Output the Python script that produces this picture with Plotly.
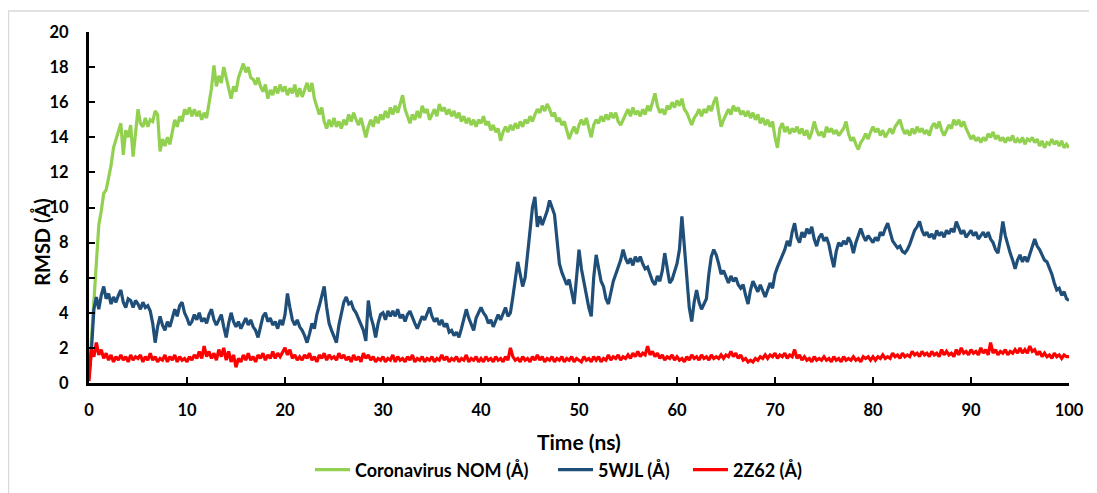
import plotly.graph_objects as go

# time axis (ns), sampled every 0.25 ns
time_ns = [i * 0.25 for i in range(401)]

nom_rmsd = [
    0.3, 2.5, 4.8, 7.0, 9.0, 9.8, 10.8, 11.0, 11.6, 12.4, 13.4, 13.9, 14.3, 14.8, 13.0, 14.4, 14.0, 14.7, 12.9, 14.3,
    15.6, 14.8, 14.6, 15.1, 14.6, 15.0, 14.9, 15.5, 15.3, 13.2, 13.9, 13.5, 14.0, 13.6, 14.4, 15.0, 14.6, 15.2, 14.9, 15.6,
    15.3, 15.7, 15.2, 15.6, 15.2, 15.5, 15.0, 15.4, 15.1, 15.9, 16.8, 18.1, 16.9, 17.5, 17.1, 18.0, 17.4, 16.8, 16.2, 16.9,
    16.6, 17.4, 17.8, 18.2, 17.7, 18.0, 17.4, 17.3, 17.0, 17.4, 16.9, 16.6, 17.0, 16.2, 16.7, 16.4, 16.9, 16.5, 17.0, 16.6,
    16.9, 16.4, 16.8, 16.5, 17.0, 16.3, 16.8, 16.3, 16.7, 17.1, 16.6, 17.1, 16.2, 15.8, 15.3, 15.7, 14.9, 14.5, 15.0, 14.6,
    15.1, 14.6, 14.9, 14.5, 15.0, 14.7, 15.3, 14.9, 15.4, 15.0, 14.7, 15.1, 14.6, 14.0, 14.6, 15.0, 14.6, 15.2, 14.8, 15.3,
    15.0, 15.5, 15.1, 15.7, 15.3, 15.8, 15.4, 16.0, 16.4, 15.6, 15.2, 14.8, 15.3, 15.0, 15.5, 15.1, 15.8, 15.4, 15.6, 15.0,
    15.3, 15.6, 15.2, 15.9, 15.5, 15.7, 15.3, 15.6, 15.2, 15.5, 15.1, 15.4, 14.9, 15.2, 14.8, 15.1, 14.7, 15.0, 14.6, 15.0,
    14.8, 15.2, 14.7, 14.9, 14.4, 14.7, 14.3, 14.5, 13.8, 14.3, 14.6, 14.3, 14.7, 14.4, 14.8, 14.5, 14.9, 14.6, 15.0, 14.8,
    15.2, 14.9, 15.3, 15.6, 15.4, 15.8, 15.5, 15.9, 15.6, 15.2, 15.4, 14.9, 15.1, 14.7, 14.9, 14.4, 13.9, 14.3, 14.6, 14.2,
    14.7, 15.0, 14.7, 15.1, 14.5, 14.0, 14.7, 15.0, 14.8, 15.2, 14.9, 15.3, 15.0, 15.4, 15.1, 15.4, 14.9, 14.7, 15.0, 15.3,
    15.6, 15.2, 15.7, 15.3, 15.5, 15.2, 15.6, 15.3, 15.8, 15.5, 16.0, 16.5, 15.8, 15.4, 15.6, 15.3, 15.8, 15.6, 16.0, 15.7,
    16.1, 15.8, 16.2, 15.6, 15.4, 15.0, 14.7, 15.1, 15.3, 15.6, 15.2, 15.6, 15.4, 15.8, 15.5, 16.0, 16.3, 15.4, 14.6, 15.0,
    15.3, 15.6, 15.3, 15.8, 15.5, 15.7, 15.3, 15.5, 15.2, 15.5, 15.1, 15.4, 15.0, 15.3, 14.8, 15.1, 14.7, 15.0, 14.6, 14.9,
    14.0, 13.4, 14.5, 14.8, 14.3, 14.6, 14.2, 14.5, 14.3, 14.6, 14.2, 14.5, 14.1, 14.4, 13.9, 14.3, 14.9, 14.4, 14.1, 14.3,
    14.0, 14.6, 14.3, 14.5, 14.2, 14.4, 14.1, 14.3, 14.5, 14.9, 14.2, 13.8, 14.0, 13.6, 13.3, 13.7, 13.9, 14.2, 13.9, 14.3,
    14.6, 14.3, 14.5, 14.1, 14.4, 14.0, 14.3, 14.5, 14.2, 14.6, 14.8, 15.0, 14.5, 14.2, 14.4, 14.1, 14.5, 14.2, 14.6, 14.3,
    14.5, 14.2, 14.4, 14.1, 14.6, 14.8, 14.5, 14.9, 14.4, 14.1, 14.4, 14.7, 14.5, 15.0, 14.7, 15.0, 14.6, 14.9, 14.5, 14.2,
    13.9, 14.1, 13.8, 14.0, 13.7, 14.0, 13.8, 14.2, 14.0, 14.3, 13.9, 14.1, 13.8, 14.0, 13.7, 14.0, 13.8, 14.1, 13.7, 13.9,
    13.7, 14.0, 13.6, 13.9, 13.8, 14.0, 13.7, 13.9, 13.5, 13.8, 13.4, 13.7, 13.6, 13.9, 13.6, 13.8, 13.5, 13.8, 13.4, 13.6,
    13.4,
]

wjl_rmsd = [
    0.5, 1.9, 4.2, 4.9, 4.2, 5.0, 5.5, 4.8, 5.1, 4.5, 4.9, 4.6, 5.0, 5.3, 4.6, 4.3, 4.8, 4.7, 4.3, 4.7,
    4.5, 4.2, 4.6, 4.3, 4.4, 4.1, 3.4, 2.3, 3.2, 3.8, 3.3, 3.0, 3.5, 3.2, 3.7, 4.2, 3.8, 4.4, 4.6, 4.0,
    3.7, 3.3, 3.5, 3.9, 3.6, 4.0, 3.5, 3.7, 3.4, 3.9, 4.2, 3.6, 3.3, 3.6, 3.9, 3.2, 2.6, 3.4, 4.0, 3.5,
    3.2, 3.5, 3.1, 3.4, 3.7, 3.3, 3.6, 3.2, 3.0, 2.6, 3.3, 3.8, 4.0, 3.5, 3.7, 3.3, 3.5, 3.1, 3.6, 3.3,
    3.9, 5.1, 4.3, 3.6, 3.3, 3.6, 3.2, 3.0, 2.7, 2.3, 2.8, 3.4, 3.1, 3.9, 4.4, 5.0, 5.5, 4.3, 3.4, 3.0,
    2.7, 2.3, 3.3, 4.0, 4.6, 4.9, 4.5, 4.6, 4.2, 4.0, 3.7, 3.4, 3.0, 2.4, 4.7, 3.8, 3.3, 2.6, 3.4, 3.9,
    4.0, 3.6, 4.1, 3.8, 4.1, 3.8, 4.2, 3.7, 3.9, 3.5, 3.9, 4.1, 3.7, 3.4, 3.1, 3.5, 3.8, 3.6, 4.0, 4.3,
    3.8, 3.5, 3.7, 3.3, 3.6, 3.2, 3.4, 2.9, 3.0, 2.7, 2.9, 2.6, 3.1, 3.6, 4.2, 3.7, 3.3, 3.0, 3.7, 4.0,
    4.3, 4.0, 3.8, 3.4, 3.6, 3.2, 3.5, 3.9, 3.6, 4.0, 4.3, 3.8, 4.0, 4.9, 5.8, 6.9, 6.2, 5.5, 6.0, 7.4,
    8.5, 10.0, 10.6, 8.9, 9.5, 9.0, 9.4, 9.8, 10.4, 10.0, 9.6, 8.2, 6.8, 6.3, 6.0, 5.6, 5.9, 5.2, 4.5, 6.0,
    7.6, 6.5, 5.7, 5.0, 4.3, 3.8, 6.0, 7.3, 6.6, 5.8, 5.5, 4.8, 4.5, 5.2, 5.8, 6.2, 6.6, 7.0, 7.6, 7.1,
    6.8, 7.1, 6.7, 7.2, 6.9, 7.2, 6.8, 6.5, 6.6, 6.2, 5.8, 5.6, 6.1, 5.8, 6.4, 7.4, 6.6, 5.7, 5.9, 6.3,
    6.8, 7.6, 9.5, 7.8, 6.2, 4.3, 3.5, 4.6, 5.3, 4.6, 4.2, 4.5, 4.8, 6.2, 7.2, 7.6, 7.3, 6.8, 6.2, 6.4,
    6.0, 5.7, 6.1, 5.8, 6.0, 5.6, 5.4, 5.6, 5.0, 4.5, 5.3, 5.8, 5.5, 5.2, 5.6, 5.2, 4.9, 5.3, 5.7, 5.4,
    6.2, 6.6, 6.9, 7.3, 7.6, 8.1, 7.8, 8.6, 9.1, 8.3, 8.0, 8.6, 8.3, 8.8, 8.5, 8.9, 8.2, 7.8, 8.3, 8.5,
    8.1, 8.3, 7.9, 7.2, 6.6, 7.5, 8.0, 7.8, 8.1, 7.9, 8.3, 8.0, 7.4, 8.0, 8.4, 8.8, 8.4, 8.1, 8.4, 8.2,
    8.0, 8.3, 8.1, 8.6, 8.4, 8.8, 9.1, 8.6, 8.1, 7.9, 7.7, 7.8, 7.5, 7.4, 7.6, 7.9, 8.3, 8.7, 8.9, 9.2,
    8.7, 8.4, 8.6, 8.3, 8.5, 8.2, 8.7, 8.4, 8.6, 8.3, 8.7, 8.5, 8.8, 8.6, 9.2, 8.8, 8.5, 8.7, 8.3, 8.5,
    8.7, 8.4, 8.6, 8.2, 8.4, 8.6, 8.3, 8.6, 8.2, 8.0, 7.6, 7.4, 8.2, 9.2, 8.4, 7.8, 7.4, 7.0, 6.5, 7.0,
    7.3, 6.9, 7.2, 6.9, 7.3, 7.7, 8.2, 7.8, 7.6, 7.3, 7.0, 6.9, 6.6, 6.2, 5.7, 5.3, 5.4, 5.0, 5.2, 4.8,
    4.7,
]

z62_rmsd = [
    0.1, 1.9, 1.5, 2.3, 1.6, 1.9, 1.4, 1.7, 1.3, 1.6, 1.2, 1.5, 1.3, 1.6, 1.3, 1.5, 1.2, 1.6, 1.3, 1.5,
    1.4, 1.6, 1.2, 1.5, 1.3, 1.7, 1.3, 1.5, 1.2, 1.4, 1.3, 1.6, 1.2, 1.5, 1.3, 1.6, 1.2, 1.5, 1.3, 1.4,
    1.2, 1.5, 1.3, 1.6, 1.4, 1.8, 1.4, 2.1, 1.5, 1.8, 1.4, 1.7, 1.3, 1.9, 1.5, 2.0, 1.3, 1.8, 1.2, 1.6,
    0.9, 1.4, 1.2, 1.6, 1.3, 1.7, 1.3, 1.5, 1.2, 1.6, 1.4, 1.7, 1.3, 1.6, 1.4, 1.8, 1.4, 1.7, 1.5, 1.8,
    2.0, 1.6, 1.9, 1.4, 1.6, 1.3, 1.5, 1.3, 1.6, 1.4, 1.7, 1.3, 1.5, 1.2, 1.6, 1.4, 1.7, 1.3, 1.6, 1.4,
    1.5, 1.3, 1.7, 1.4, 1.6, 1.3, 1.5, 1.2, 1.6, 1.3, 1.5, 1.2, 1.7, 1.4, 1.6, 1.3, 1.5, 1.2, 1.4, 1.3,
    1.5, 1.2, 1.4, 1.3, 1.6, 1.2, 1.5, 1.3, 1.4, 1.2, 1.5, 1.3, 1.6, 1.2, 1.4, 1.3, 1.5, 1.2, 1.4, 1.3,
    1.5, 1.2, 1.4, 1.3, 1.6, 1.3, 1.5, 1.2, 1.4, 1.3, 1.5, 1.2, 1.4, 1.3, 1.6, 1.2, 1.4, 1.3, 1.5, 1.2,
    1.4, 1.2, 1.5, 1.3, 1.4, 1.2, 1.5, 1.3, 1.4, 1.2, 1.5, 1.3, 2.0, 1.5, 1.3, 1.4, 1.2, 1.5, 1.3, 1.4,
    1.2, 1.5, 1.3, 1.6, 1.3, 1.5, 1.2, 1.4, 1.3, 1.5, 1.2, 1.4, 1.3, 1.5, 1.2, 1.4, 1.3, 1.5, 1.2, 1.4,
    1.3, 1.2, 1.5, 1.3, 1.4, 1.2, 1.5, 1.3, 1.5, 1.2, 1.4, 1.3, 1.6, 1.3, 1.5, 1.4, 1.6, 1.3, 1.5, 1.4,
    1.6, 1.4, 1.7, 1.5, 1.8, 1.5, 1.7, 1.6, 2.1, 1.6, 1.8, 1.5, 1.7, 1.4, 1.6, 1.3, 1.5, 1.4, 1.6, 1.3,
    1.5, 1.3, 1.4, 1.2, 1.5, 1.3, 1.6, 1.4, 1.5, 1.3, 1.6, 1.4, 1.5, 1.3, 1.6, 1.4, 1.5, 1.4, 1.6, 1.4,
    1.6, 1.5, 1.8, 1.5, 1.7, 1.4, 1.6, 1.3, 1.4, 1.2, 1.3, 1.2, 1.4, 1.3, 1.5, 1.4, 1.6, 1.4, 1.6, 1.5,
    1.7, 1.4, 1.6, 1.5, 1.7, 1.4, 1.6, 1.5, 1.9, 1.4, 1.6, 1.3, 1.5, 1.3, 1.4, 1.2, 1.5, 1.3, 1.4, 1.3,
    1.5, 1.3, 1.4, 1.2, 1.5, 1.3, 1.4, 1.2, 1.5, 1.3, 1.4, 1.3, 1.5, 1.3, 1.4, 1.2, 1.5, 1.4, 1.5, 1.3,
    1.5, 1.3, 1.5, 1.4, 1.6, 1.4, 1.5, 1.4, 1.7, 1.5, 1.6, 1.4, 1.7, 1.5, 1.6, 1.5, 1.8, 1.6, 1.7, 1.5,
    1.8, 1.6, 1.7, 1.5, 1.8, 1.6, 1.7, 1.5, 1.9, 1.6, 1.8, 1.6, 1.7, 1.5, 1.9, 1.6, 2.0, 1.7, 1.8, 1.6,
    1.9, 1.7, 1.8, 1.6, 2.0, 1.7, 1.9, 1.6, 2.3, 1.7, 1.9, 1.6, 1.8, 1.7, 1.9, 1.6, 1.8, 1.7, 1.9, 1.7,
    2.0, 1.7, 1.9, 1.7, 2.1, 1.8, 1.9, 1.6, 1.8, 1.5, 1.7, 1.5, 1.6, 1.4, 1.7, 1.5, 1.6, 1.4, 1.6, 1.5,
    1.5,
]

series_names = ["Coronavirus NOM (Å)", "5WJL (Å)", "2Z62 (Å)"]
series_colors = ["#92D050", "#1F4E79", "#FF0000"]
legend_ids = ["legend", "legend2", "legend3"]
x_ticks = [0, 10, 20, 30, 40, 50, 60, 70, 80, 90, 100]
y_ticks = [0, 2, 4, 6, 8, 10, 12, 14, 16, 18, 20]

FONT = "Lato, 'Open Sans', sans-serif"

fig = go.Figure()
for name, ys, col, lg in zip(series_names, [nom_rmsd, wjl_rmsd, z62_rmsd], series_colors, legend_ids):
    fig.add_trace(go.Scatter(x=time_ns, y=ys, mode="lines", name=name, legend=lg,
                             line=dict(color=col, width=3.2)))

axis_common = dict(showline=True, linecolor="black", linewidth=3, ticks="inside",
                   ticklen=6, tickwidth=2, tickcolor="black", showgrid=False, zeroline=False,
                   tickfont=dict(family=FONT, size=16.5, color="black", weight="bold"))

legend_font = dict(family=FONT, size=18, color="black", weight="bold")
legend_y = 0.0474  # container coordinates


def legend_at(xpaper):
    return dict(orientation="h", x=xpaper, xanchor="left", xref="paper",
                y=legend_y, yref="container", yanchor="middle",
                font=legend_font, bgcolor="rgba(0,0,0,0)", itemwidth=35)


fig.update_layout(
    width=1089, height=485, autosize=False,
    margin=dict(l=81, r=28, t=24, b=110, autoexpand=False),
    paper_bgcolor="white", plot_bgcolor="white",
    xaxis=dict(range=[0, 100], tickvals=x_ticks, ticklabelstandoff=10, **axis_common),
    yaxis=dict(range=[0, 20], tickvals=y_ticks, ticklabelstandoff=14, **axis_common),
    showlegend=True,
    legend=legend_at(0.2255),
    legend2=legend_at(0.4735),
    legend3=legend_at(0.6112),
    annotations=[
        dict(text="Time (ns)", xref="paper", yref="paper", x=0.5, y=-0.168,
             xanchor="center", yanchor="middle", showarrow=False,
             font=dict(family=FONT, size=21, color="black", weight="bold")),
        dict(text="RMSD (Å)", xref="paper", yref="paper", x=-0.048, y=0.402,
             xanchor="center", yanchor="middle", showarrow=False, textangle=-90,
             font=dict(family=FONT, size=20, color="black", weight="bold")),
    ],
    shapes=[
        dict(type="rect", xref="paper", yref="paper", x0=-0.0822, x1=1.1, y0=-0.4, y1=1.06,
             line=dict(color="#d9d9d9", width=1.5), fillcolor="rgba(0,0,0,0)", layer="below"),
    ],
)

fig.write_html("out.html")
